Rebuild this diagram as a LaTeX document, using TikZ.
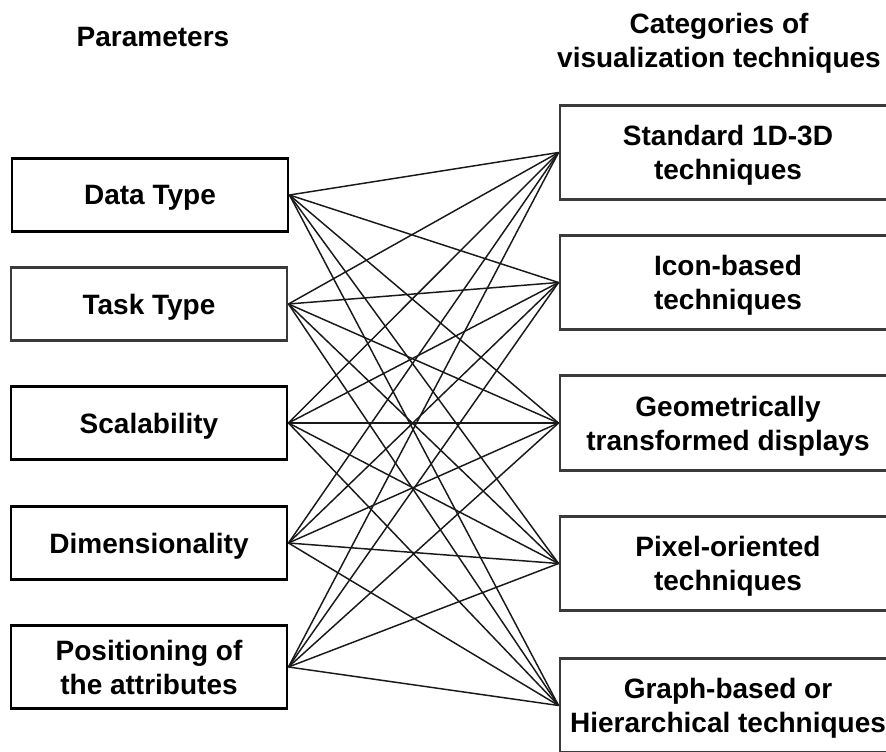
\documentclass[tikz,border=0pt]{standalone}
\usepackage{fontspec}
\setmainfont{Liberation Sans}
\usetikzlibrary{positioning}
\definecolor{boxgray}{RGB}{58,58,58}

\begin{document}
\begin{tikzpicture}[x=0.75pt,y=-0.75pt,
    every node/.style={font=\bfseries\fontsize{21}{25.5}\selectfont,align=center},
    param/.style={draw=black,line width=2.2pt,minimum width=207pt,minimum height=55pt,text depth=0pt},
    categ/.style={draw=boxgray,line width=2.2pt,minimum width=252pt,minimum height=71pt,text depth=0pt},
    link/.style={line width=1.1pt,black!90}]
  \useasboundingbox (0,0) rectangle (886,752);
  \clip (0,0) rectangle (886,752);
  % headings
  \node (hpar) at (153,37) {Parameters};
  \node (hcat) at (719,43) {Categories of\\visualization techniques};
  % parameters
  \node[param] (dt) at (150,195) {Data Type};
  \node[param,draw=boxgray] (tt) at (149,304) {Task Type};
  \node[param] (sc) at (149,423) {Scalability};
  \node[param] (dm) at (149,543) {Dimensionality};
  \node[param,minimum height=62pt] (pa) at (149,667) {Positioning of\\the attributes};
  % categories
  \node[categ] (st) at (728,152.5) {Standard 1D-3D\\techniques};
  \node[categ] (ic) at (728,282.5) {Icon-based\\techniques};
  \node[categ] (ge) at (728,423) {Geometrically\\transformed displays};
  \node[categ] (px) at (728,563.5) {Pixel-oriented\\techniques};
  \node[categ] (gr) at (728,705.5) {Graph-based or\\Hierarchical techniques};
  % every parameter to every category
  \foreach \p in {dt,tt,sc,dm,pa}
    \foreach \c in {st,ic,ge,px,gr}
      \draw[link] (\p.east) -- (\c.west);
\end{tikzpicture}
\end{document}
